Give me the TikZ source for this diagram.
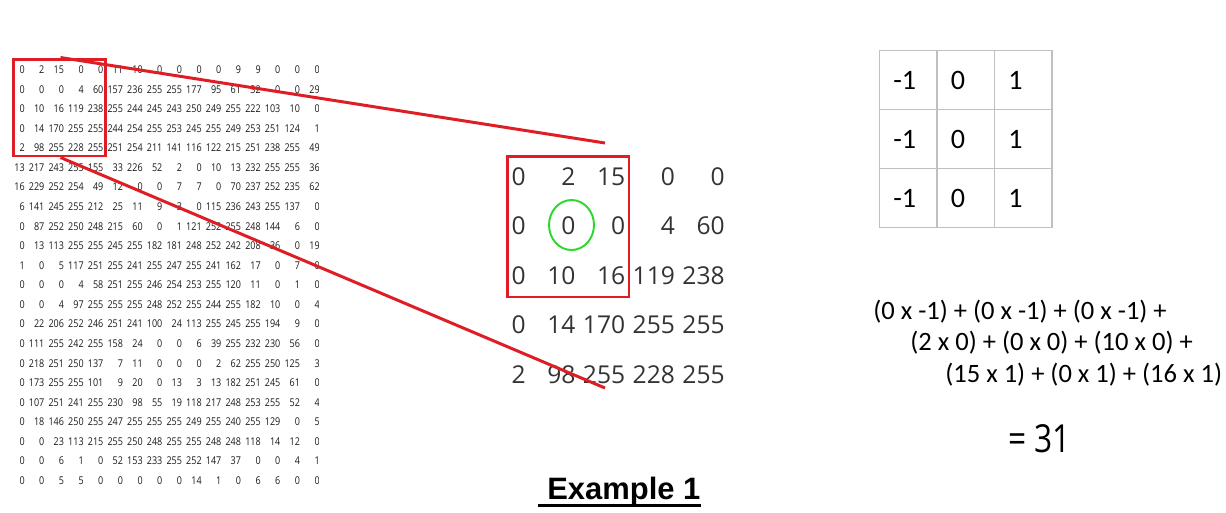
\documentclass[tikz,border=0pt]{standalone}
\usepackage{fontspec}
\setmainfont{Open Sans}
\newfontfamily\calfont{Carlito}
\newfontfamily\headfont{Liberation Sans}
\newfontfamily\resfont[FakeStretch=0.82]{Open Sans}
\newfontfamily\pixfont[FakeStretch=0.84]{Open Sans}
\usetikzlibrary{positioning, calc, shapes.geometric}
\definecolor{winred}{RGB}{222, 30, 36}
\definecolor{focusgreen}{RGB}{45, 215, 45}
\definecolor{gridgray}{RGB}{192, 192, 192}

% image rows of the digit picture
\newcommand{\pixrows}{%
{0,2,15,0,0,11,10,0,0,0,0,9,9,0,0,0},
{0,0,0,4,60,157,236,255,255,177,95,61,32,0,0,29},
{0,10,16,119,238,255,244,245,243,250,249,255,222,103,10,0},
{0,14,170,255,255,244,254,255,253,245,255,249,253,251,124,1},
{2,98,255,228,255,251,254,211,141,116,122,215,251,238,255,49},
{13,217,243,255,155,33,226,52,2,0,10,13,232,255,255,36},
{16,229,252,254,49,12,0,0,7,7,0,70,237,252,235,62},
{6,141,245,255,212,25,11,9,3,0,115,236,243,255,137,0},
{0,87,252,250,248,215,60,0,1,121,252,255,248,144,6,0},
{0,13,113,255,255,245,255,182,181,248,252,242,208,36,0,19},
{1,0,5,117,251,255,241,255,247,255,241,162,17,0,7,0},
{0,0,0,4,58,251,255,246,254,253,255,120,11,0,1,0},
{0,0,4,97,255,255,255,248,252,255,244,255,182,10,0,4},
{0,22,206,252,246,251,241,100,24,113,255,245,255,194,9,0},
{0,111,255,242,255,158,24,0,0,6,39,255,232,230,56,0},
{0,218,251,250,137,7,11,0,0,0,2,62,255,250,125,3},
{0,173,255,255,101,9,20,0,13,3,13,182,251,245,61,0},
{0,107,251,241,255,230,98,55,19,118,217,248,253,255,52,4},
{0,18,146,250,255,247,255,255,255,249,255,240,255,129,0,5},
{0,0,23,113,215,255,250,248,255,255,248,248,118,14,12,0},
{0,0,6,1,0,52,153,233,255,252,147,37,0,0,4,1},
{0,0,5,5,0,0,0,0,0,14,1,0,6,6,0,0}}

\begin{document}
\begin{tikzpicture}[
  x=0.02cm, y=-0.02cm,
  pix/.style={font=\pixfont\fontsize{6.1}{7}\selectfont, text=black!90, inner sep=0pt, anchor=base east},
  bigpix/.style={font=\fontsize{14}{16}\selectfont, text=black!80, inner sep=0pt, anchor=base east},
  winbox/.style={draw=winred, line width=1.7pt, inner sep=0pt},
  zoomline/.style={winred, line width=1.7pt},
  focus/.style={draw=focusgreen, line width=1.1pt, ellipse, inner sep=0pt, minimum width=0.9cm, minimum height=1cm},
  kcell/.style={draw=gridgray, line width=0.85pt, font=\calfont\fontsize{16}{18}\selectfont, minimum height=1.18cm, text width=0.59cm, inner xsep=0.28cm, align=left},
  sumline/.style={font=\calfont\fontsize{15.1}{18}\selectfont, inner sep=0pt, anchor=base west}
]
  \useasboundingbox (0,0) rectangle (1226,512);

  % full picture, last column cut off
  \begin{scope}
    \clip (0,0) rectangle (318.5,512);
    \foreach \row [count=\r] in \pixrows {
      \foreach \v [count=\c] in \row {
        \node[pix] (m-\r-\c) at ({25+19.67*(\c-1)}, {73.5+19.57*(\r-1)}) {\v};
      }
    }
  \end{scope}

  % enlarged corner
  \foreach \row [count=\r] in \pixrows {
    \ifnum\r<6
      \foreach \v [count=\c] in \row {
        \ifnum\c<6
          \node[bigpix] (b-\r-\c) at ({526+49.75*(\c-1)}, {185+49.5*(\r-1)}) {\v};
        \fi
      }
    \fi
  }

  \node[winbox, minimum width=1.86cm, minimum height=1.94cm] (win) at (59.5, 107.5) {};
  \node[winbox, minimum width=2.44cm, minimum height=2.82cm] (bigwin) at (568, 226.5) {};
  \node[focus] (cur) at (571.5, 225) {};

  \coordinate (ztop) at (605, 143);
  \coordinate (zbot) at (605, 388);
  \draw[zoomline] ($(win.north west)+(49,0)$) -- (ztop);
  \draw[zoomline] ($(win.south west)+(49,0)$) -- (zbot);

  % kernel
  \foreach \k [count=\c] in {-1, 0, 1} {
    \foreach \r in {1, 2, 3} {
      \node[kcell] (k-\r-\c) at ({908+57.5*(\c-1)}, {80+59*(\r-1)}) {\k};
    }
  }

  \node[sumline] (s1) at (873, 319) {(0 x -1) + (0 x -1) + (0 x -1) +};
  \node[sumline] (s2) at (910, 350.5) {(2 x 0) + (0 x 0) + (10 x 0) +};
  \node[sumline] (s3) at (945, 382) {(15 x 1) + (0 x 1) + (16 x 1)};
  \node[font=\resfont\fontsize{22}{26}\selectfont, inner sep=0pt, anchor=base west] (res) at (1008, 452) {= 31};

  \node[font=\headfont\bfseries\fontsize{17.6}{21}\selectfont, inner sep=0pt, anchor=base west] (ex) at (547, 499) {Example 1};
  \draw[line width=1.7pt] ($(ex.base west)+(-9,6)$) -- ($(ex.base east)+(0,6)$);
\end{tikzpicture}
\end{document}
